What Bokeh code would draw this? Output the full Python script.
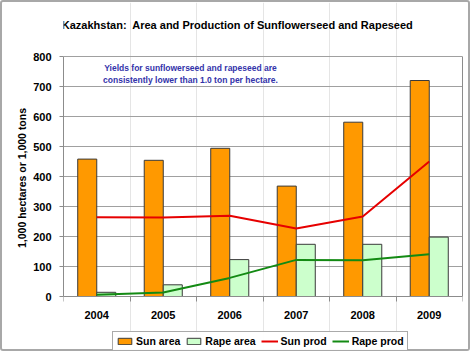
from bokeh.plotting import figure
from bokeh.models import (ColumnDataSource, FixedTicker, Label, Legend, LegendItem,
                          Range1d, LinearAxis, Grid)
from bokeh.transform import dodge
from bokeh.embed import file_html
from bokeh.resources import INLINE

years = ["2004", "2005", "2006", "2007", "2008", "2009"]
sun_area = [458, 454, 494, 368, 581, 720]
rape_area = [14, 39, 123, 174, 174, 198]
sun_prod = [264, 263, 269, 227, 267, 450]
rape_prod = [6, 13, 62, 122, 121, 141]
y_ticks = [0, 100, 200, 300, 400, 500, 600, 700, 800]

title_text = "Kazakhstan:\u00a0 Area and Production of Sunflowerseed and Rapeseed"
note_lines = ["Yields for sunflowerseed and rapeseed are",
              "consistently lower than 1.0 ton per hectare."]
y_label = "1,000 hectares or 1,000 tons"

FONT = "Liberation Sans"
GRAY = "#8c8c8c"

xc = [i + 0.5 for i in range(len(years))]
src = ColumnDataSource(dict(x=xc, year=years, sun_area=sun_area, rape_area=rape_area,
                            sun_prod=sun_prod, rape_prod=rape_prod))

# frame spans the full canvas height so title, note and legend can sit inside it
p = figure(width=470, height=351, output_backend="svg", toolbar_location=None,
           x_range=Range1d(0, len(years)), y_range=Range1d(-190, 980),
           min_border_left=61, min_border_right=10, min_border_top=0,
           min_border_bottom=0, x_axis_location=None, y_axis_location=None)
p.styles = {"border": "2px solid #a8a8a8", "border-radius": "3px"}
p.background_fill_color = "white"
p.border_fill_color = "white"
p.outline_line_color = None

bw = 0.286
r1 = p.vbar(x=dodge("x", -bw / 2, range=p.x_range), top="sun_area", width=bw, source=src,
            fill_color="#FF9900", line_color="#3a3a3a", line_width=1)
r2 = p.vbar(x=dodge("x", bw / 2, range=p.x_range), top="rape_area", width=bw, source=src,
            fill_color="#CCFFCC", line_color="#3a3a3a", line_width=1)
r3 = p.line(x="x", y="sun_prod", source=src, line_color="#E60000", line_width=2)
r4 = p.line(x="x", y="rape_prod", source=src, line_color="#138A13", line_width=2)

# left value axis
yax = LinearAxis(ticker=FixedTicker(ticks=y_ticks), bounds=(0, 800))
yax.axis_line_color = GRAY
yax.major_tick_line_color = GRAY
yax.major_tick_out = 4
yax.major_tick_in = 0
yax.minor_tick_line_color = None
yax.major_label_standoff = 8
yax.major_label_text_font = FONT
yax.major_label_text_font_style = "bold"
yax.major_label_text_font_size = "11px"
yax.major_label_text_color = "black"
yax.axis_label = y_label
yax.axis_label_text_font = FONT
yax.axis_label_text_font_style = "bold"
yax.axis_label_text_font_size = "10.5px"
yax.axis_label_text_color = "black"
yax.axis_label_standoff = 2
p.add_layout(yax, "left")

# right border of plot area
rax = LinearAxis(ticker=FixedTicker(ticks=[]), bounds=(0, 800))
rax.axis_line_color = GRAY
rax.major_tick_line_color = None
rax.minor_tick_line_color = None
rax.major_label_text_font_size = "0px"
rax.major_label_standoff = 0
p.add_layout(rax, "right")

# horizontal gridlines
grid = Grid(dimension=1, ticker=FixedTicker(ticks=y_ticks), grid_line_color="#a0a0a0",
            grid_line_width=1)
p.add_layout(grid)

# category axis placed at value 0
xax = LinearAxis(ticker=FixedTicker(ticks=xc, minor_ticks=list(range(len(years) + 1))),
                 fixed_location=0)
xax.major_label_overrides = {x: y for x, y in zip(xc, years)}
xax.axis_line_color = GRAY
xax.major_tick_line_color = None
xax.major_tick_out = 0
xax.major_tick_in = 0
xax.minor_tick_line_color = GRAY
xax.minor_tick_out = 5
xax.minor_tick_in = 0
xax.major_label_standoff = 9
xax.major_label_text_font = FONT
xax.major_label_text_font_style = "bold"
xax.major_label_text_font_size = "11px"
xax.major_label_text_color = "black"
p.add_layout(xax, "below")

# title (screen units relative to frame bottom-left)
p.add_layout(Label(x=174, y=329, x_units="screen", y_units="screen", text=title_text,
                   text_align="center", text_baseline="middle", text_font=FONT,
                   text_font_style="bold", text_font_size="11px", text_color="black"))

# note inside plot area
for i, t in enumerate(note_lines):
    p.add_layout(Label(x=127, y=286 - 12 * i, x_units="screen", y_units="screen", text=t,
                       text_align="center", text_baseline="middle", text_font=FONT,
                       text_font_style="bold", text_font_size="8.5px", text_color="#3333AA"))

legend = Legend(items=[LegendItem(label="Sun area", renderers=[r1]),
                       LegendItem(label="Rape area", renderers=[r2]),
                       LegendItem(label="Sun prod", renderers=[r3]),
                       LegendItem(label="Rape prod", renderers=[r4])],
                orientation="horizontal", location=(49, 2),
                glyph_width=17, glyph_height=8, label_standoff=3, spacing=5,
                padding=3, margin=0, label_text_font=FONT, label_text_font_style="bold",
                label_text_font_size="10.5px", label_text_color="black",
                label_height=10,
                border_line_color="#555555", border_line_width=1,
                background_fill_color="white")
p.add_layout(legend, "center")

open("out.html", "w").write(file_html(p, INLINE))
